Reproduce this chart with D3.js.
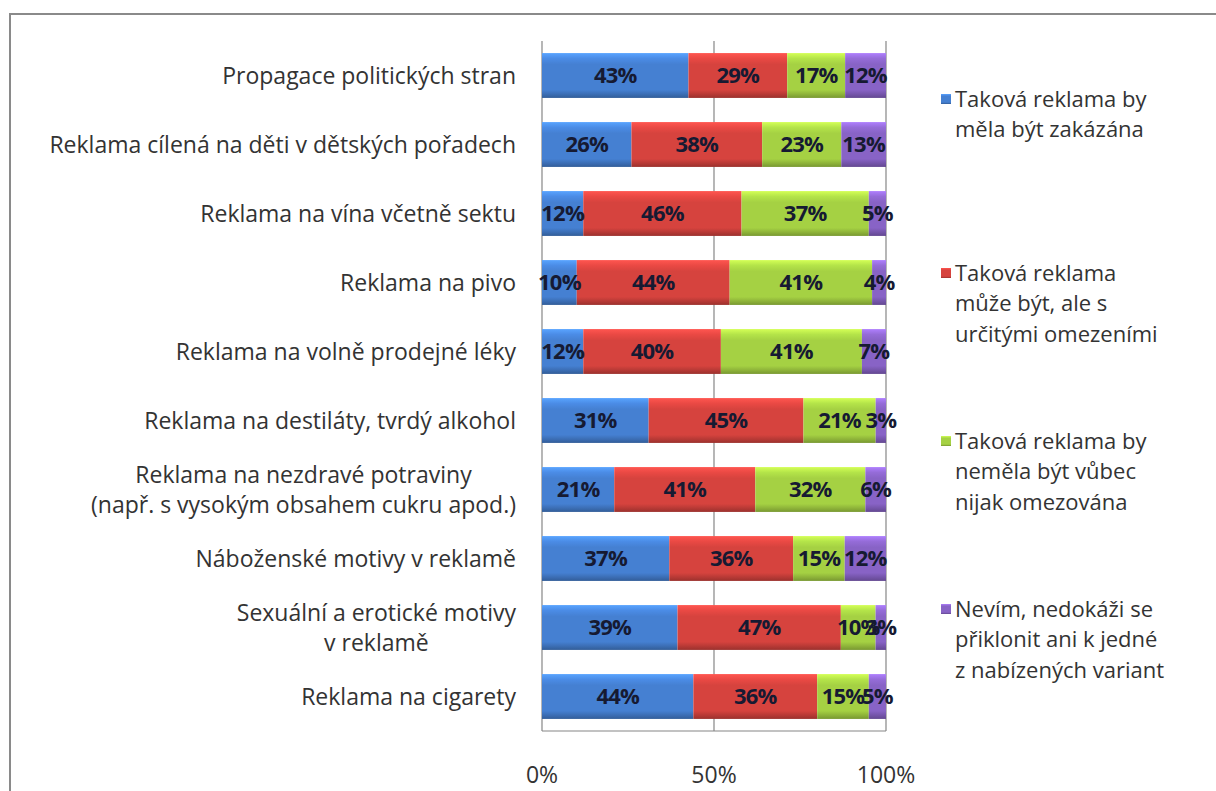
<!DOCTYPE html>
<html>
<head>
<meta charset="utf-8">
<script src="https://cdn.jsdelivr.net/npm/d3@7"></script>
<style>
  html, body { margin: 0; padding: 0; background: #fff; }
  svg { display: block; }
  text { font-family: "Open Sans", "Noto Sans", sans-serif; }
</style>
</head>
<body>
<svg id="chart" width="1216" height="791"></svg>
<script>
// Survey topics (top to bottom); "\n" splits a label into lines
const categories = [
  "Propagace politických stran",
  "Reklama cílená na děti v dětských pořadech",
  "Reklama na vína včetně sektu",
  "Reklama na pivo",
  "Reklama na volně prodejné léky",
  "Reklama na destiláty, tvrdý alkohol",
  "Reklama na nezdravé potraviny\n(např. s vysokým obsahem cukru apod.)",
  "Náboženské motivy v reklamě",
  "Sexuální a erotické motivy\nv reklamě",
  "Reklama na cigarety"
];

// Answer shares (%) for each topic, one array per answer
const banned     = [43, 26, 12, 10, 12, 31, 21, 37, 39, 44];
const restricted = [29, 38, 46, 44, 40, 45, 41, 36, 47, 36];
const unlimited  = [17, 23, 37, 41, 41, 21, 32, 15, 10, 15];
const dontKnow   = [12, 13,  5,  4,  7,  3,  6, 12,  3,  5];

const seriesNames = [
  "Taková reklama by\nměla být zakázána",
  "Taková reklama\nmůže být, ale s\nurčitými omezeními",
  "Taková reklama by\nneměla být vůbec\nnijak omezována",
  "Nevím, nedokáži se\npřiklonit ani k jedné\nz nabízených variant"
];
const seriesColors = ["#4580d2", "#d6433e", "#a5d143", "#8863c6"];
const tickLabels = ["0%", "50%", "100%"];
const tickValues = [0, 0.5, 1];

const svg = d3.select("#chart");
const W = 1216, H = 791;

// outer frame
svg.append("rect")
  .attr("x", 10).attr("y", 14).attr("width", W + 20).attr("height", H + 20)
  .attr("fill", "#fff").attr("stroke", "#8a8a8a").attr("stroke-width", 2);

const plot = { left: 542, right: 886, top: 41, bottom: 731 };

const x = d3.scaleLinear().domain([0, 1]).range([plot.left, plot.right]);
const y = d3.scaleBand().domain(d3.range(categories.length))
  .range([plot.top, plot.bottom]).paddingInner(0.35).paddingOuter(0.175);

// bevelled gradients for each series
const defs = svg.append("defs");
seriesColors.forEach((c, i) => {
  const base = d3.color(c);
  const g = defs.append("linearGradient").attr("id", "grad" + i)
    .attr("x1", 0).attr("y1", 0).attr("x2", 0).attr("y2", 1);
  g.append("stop").attr("offset", "0").attr("stop-color", d3.color(c).brighter(0.7));
  g.append("stop").attr("offset", "0.12").attr("stop-color", d3.color(c).brighter(0.25));
  g.append("stop").attr("offset", "0.25").attr("stop-color", base);
  g.append("stop").attr("offset", "0.82").attr("stop-color", base);
  g.append("stop").attr("offset", "0.92").attr("stop-color", d3.color(c).darker(0.45));
  g.append("stop").attr("offset", "1").attr("stop-color", d3.color(c).darker(0.9));
});

// gridlines and axis lines
const gridG = svg.append("g");
tickValues.forEach(v => {
  gridG.append("line")
    .attr("x1", x(v)).attr("x2", x(v))
    .attr("y1", plot.top).attr("y2", plot.bottom)
    .attr("stroke", "#868686").attr("stroke-width", 1.2);
});
gridG.append("line")
  .attr("x1", plot.left).attr("x2", plot.right)
  .attr("y1", plot.bottom).attr("y2", plot.bottom)
  .attr("stroke", "#868686").attr("stroke-width", 1.2);

// stacked, normalised rows
const rows = categories.map((c, i) => {
  const vals = [banned[i], restricted[i], unlimited[i], dontKnow[i]];
  const total = d3.sum(vals);
  let acc = 0;
  return vals.map((v, k) => {
    const seg = { row: i, k, v, x0: acc / total, x1: (acc + v) / total };
    acc += v;
    return seg;
  });
});
const segs = rows.flat();

svg.append("g").selectAll("rect").data(segs).join("rect")
  .attr("x", d => x(d.x0))
  .attr("y", d => y(d.row))
  .attr("width", d => x(d.x1) - x(d.x0))
  .attr("height", y.bandwidth())
  .attr("fill", d => `url(#grad${d.k})`);

// segment value labels
svg.append("g").selectAll("text").data(segs).join("text")
  .attr("x", d => (x(d.x0) + x(d.x1)) / 2)
  .attr("y", d => y(d.row) + y.bandwidth() / 2)
  .attr("dy", "0.36em")
  .attr("text-anchor", "middle")
  .attr("font-size", 22).attr("font-weight", "bold")
  .attr("letter-spacing", -0.8)
  .attr("fill", "#161a32")
  .text(d => d.v + "%");

// category labels: right-aligned block, lines centred within it
const catG = svg.append("g");
const lineH = 30.5;
categories.forEach((c, i) => {
  const lines = c.split("\n");
  const cy = y(i) + y.bandwidth() / 2;
  const t = catG.append("text").attr("font-size", 23).attr("fill", "#333")
    .attr("text-anchor", "middle");
  const spans = lines.map((ln, j) => t.append("tspan").text(ln));
  const widths = spans.map(s => s.node().getComputedTextLength());
  const wMax = d3.max(widths);
  const cx = 516 - wMax / 2;
  spans.forEach((s, j) => {
    s.attr("x", cx)
     .attr("y", cy + (j - (lines.length - 1) / 2) * lineH)
     .attr("dy", "0.36em");
  });
});

// value axis tick labels
svg.append("g").selectAll("text").data(tickValues).join("text")
  .attr("x", d => x(d)).attr("y", 775).attr("dy", "0.36em")
  .attr("text-anchor", "middle").attr("font-size", 23).attr("fill", "#333")
  .text((d, i) => tickLabels[i]);

// legend
const legendY = [99, 273, 441, 609];
const legG = svg.append("g");
seriesNames.forEach((name, k) => {
  const y0 = legendY[k];
  legG.append("rect")
    .attr("x", 941).attr("y", y0 - 5).attr("width", 10).attr("height", 10)
    .attr("fill", `url(#grad${k})`);
  const t = legG.append("text").attr("font-size", 22).attr("fill", "#333");
  name.split("\n").forEach((ln, j) => {
    t.append("tspan").attr("x", 955).attr("y", y0 + j * lineH).attr("dy", "0.36em").text(ln);
  });
});
</script>
</body>
</html>
